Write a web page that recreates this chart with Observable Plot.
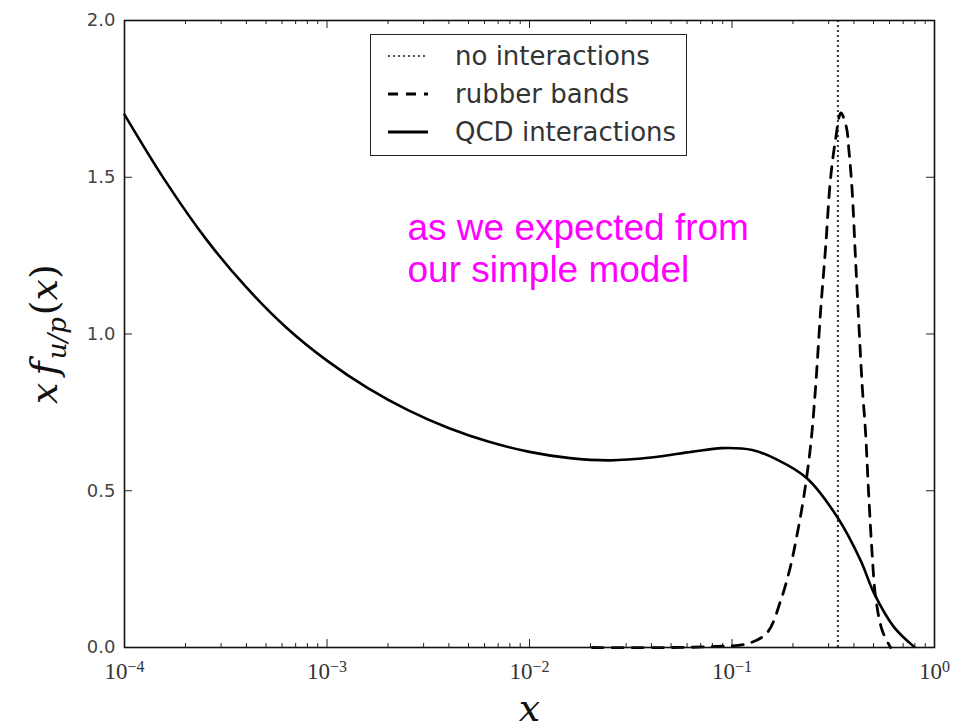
<!DOCTYPE html>
<html>
<head>
<meta charset="utf-8">
<script src="https://cdn.jsdelivr.net/npm/d3@7"></script>
<script src="https://cdn.jsdelivr.net/npm/@observablehq/plot@0.6"></script>
<style>
  html, body { margin: 0; padding: 0; background: #fff; }
  #wrap { position: relative; width: 969px; height: 728px; overflow: hidden; }
  #legend {
    position: absolute; left: 370px; top: 34px; width: 315px; height: 120px;
    border: 1.6px solid #222; background: #fff; box-sizing: content-box;
    font-family: "DejaVu Sans", sans-serif; font-size: 26px; color: #333;
  }
  .lrow { position: absolute; left: 0; height: 30px; width: 100%; }
  .lrow svg { position: absolute; left: 14px; top: 0; }
  .lrow span { position: absolute; left: 84px; top: 0; line-height: 30px; white-space: nowrap; }
</style>
</head>
<body>
<div id="wrap"></div>
<script>
// ---- data ----
const solidX = [1.0e-4, 1.585e-4, 2.512e-4, 3.981e-4, 6.310e-4, 1.0e-3, 1.585e-3, 2.512e-3, 3.981e-3, 6.310e-3, 1.0e-2, 1.585e-2, 2.512e-2, 3.981e-2, 6.310e-2, 8.913e-2, 0.1259, 0.166, 0.2344, 0.3311, 0.4315, 0.5012, 0.631, 0.7943];
const solidY = [1.700, 1.490, 1.305, 1.150, 1.020, 0.915, 0.828, 0.757, 0.700, 0.656, 0.624, 0.604, 0.597, 0.606, 0.624, 0.636, 0.630, 0.600, 0.540, 0.416, 0.278, 0.175, 0.065, 0.002];

const dashX = [0.0204, 0.05, 0.08, 0.119, 0.149, 0.174, 0.194, 0.210, 0.226, 0.244, 0.258, 0.274, 0.290, 0.306, 0.324, 0.345, 0.367, 0.378, 0.392, 0.407, 0.423, 0.440, 0.456, 0.474, 0.492, 0.512, 0.552, 0.607];
const dashY = [0.0, 0.0, 0.003, 0.012, 0.047, 0.150, 0.256, 0.363, 0.479, 0.639, 0.82, 1.075, 1.277, 1.490, 1.617, 1.705, 1.66, 1.585, 1.458, 1.245, 1.033, 0.830, 0.692, 0.479, 0.299, 0.160, 0.054, 0.0];

const noInteractionX = [1 / 3];

const xTickValues = [1e-4, 1e-3, 1e-2, 1e-1, 1];
const xMinorFactors = [2, 3, 4, 5, 6, 7, 8, 9];
const yTickValues = [0.0, 0.5, 1.0, 1.5, 2.0];

const legendLabels = ["no interactions", "rubber bands", "QCD interactions"];
const yLabel = "x f_{u/p}(x)";
const xLabel = "x";
const annotation = "as we expected from\nour simple model";

// ---- layout ----
const W = 969, H = 728, mL = 124, mR = 35, mT = 20, mB = 81;
const plotH = H - mT - mB, plotW = W - mL - mR;
const yPerPx = 2 / plotH, decPerPx = 4 / plotW;
const majLen = 8, minLen = 4;

const solid = solidX.map((x, i) => ({x, y: solidY[i]}));
const dashed = dashX.map((x, i) => ({x, y: dashY[i]}));
const xMinor = xTickValues.slice(0, -1).flatMap(d => xMinorFactors.map(f => d * f));

const tickStroke = "#222";

const chart = Plot.plot({
  width: W, height: H,
  marginLeft: mL, marginRight: mR, marginTop: mT, marginBottom: mB,
  x: {type: "log", domain: [1e-4, 1], axis: null},
  y: {domain: [0, 2], axis: null},
  style: {background: "#fff", overflow: "visible"},
  marks: [
    // inward ticks (bottom / top)
    Plot.ruleX(xTickValues, {x: d => d, y1: 0, y2: majLen * yPerPx, stroke: tickStroke, strokeWidth: 1}),
    Plot.ruleX(xTickValues, {x: d => d, y1: 2 - majLen * yPerPx, y2: 2, stroke: tickStroke, strokeWidth: 1}),
    Plot.ruleX(xMinor, {x: d => d, y1: 0, y2: minLen * yPerPx, stroke: tickStroke, strokeWidth: 1}),
    Plot.ruleX(xMinor, {x: d => d, y1: 2 - minLen * yPerPx, y2: 2, stroke: tickStroke, strokeWidth: 1}),
    // inward ticks (left / right)
    Plot.ruleY(yTickValues, {y: d => d, x1: 1e-4, x2: 1e-4 * Math.pow(10, majLen * decPerPx), stroke: tickStroke, strokeWidth: 1}),
    Plot.ruleY(yTickValues, {y: d => d, x1: Math.pow(10, -majLen * decPerPx), x2: 1, stroke: tickStroke, strokeWidth: 1}),
    // tick labels
    Plot.text(yTickValues, {x: 1e-4, y: d => d, text: d => d.toFixed(1), textAnchor: "end", dx: -9,
      fontSize: 18, fontFamily: "DejaVu Sans", fill: "#444"}),
    Plot.text(xTickValues, {x: d => d, y: 0, text: d => "10^" + Math.round(Math.log10(d)), lineAnchor: "bottom", dy: 31,
      fontSize: 23, fontFamily: "Liberation Serif", fill: "#333"}),
    // axis labels
    Plot.text([yLabel], {frameAnchor: "left", text: d => d, rotate: -90, dx: -80, textAnchor: "middle",
      lineAnchor: "middle", fontSize: 38, fontFamily: "DejaVu Serif", fill: "#111"}),
    Plot.text([xLabel], {frameAnchor: "bottom", text: d => d, dy: 73, fontSize: 38, fontStyle: "italic",
      fontFamily: "DejaVu Serif", fill: "#111"}),
    // data
    Plot.ruleX(noInteractionX, {x: d => d, stroke: "#333", strokeWidth: 2, strokeDasharray: "2,3"}),
    Plot.line(dashed, {x: "x", y: "y", curve: "catmull-rom", stroke: "#000", strokeWidth: 2.8, strokeDasharray: "11,9"}),
    Plot.line(solid, {x: "x", y: "y", curve: "catmull-rom", stroke: "#000", strokeWidth: 2.6}),
    // annotation
    Plot.text([annotation], {frameAnchor: "top-left", text: d => d, dx: 283, dy: 190, lineAnchor: "top",
      textAnchor: "start", fontSize: 37, lineHeight: 1.135, fontFamily: "Liberation Sans", fill: "#ff00ff"}),
    Plot.frame({stroke: "#111", strokeWidth: 1.6})
  ]
});

// rebuild math-like labels with tspans (still real text)
d3.select(chart).selectAll("text").each(function() {
  const t = d3.select(this);
  const s = this.textContent;
  const m = /^10\^(-?\d+)$/.exec(s);
  if (m) {
    t.text(null);
    t.append("tspan").text("10");
    t.append("tspan").attr("dy", "-0.42em").attr("font-size", 16).text(m[1].replace("-", "\u2212"));
  } else if (s === yLabel) {
    t.text(null).attr("font-style", null);
    t.append("tspan").attr("font-style", "italic").text("x");
    t.append("tspan").attr("font-style", "italic").attr("dx", 7).text("f");
    t.append("tspan").attr("font-style", "italic").attr("font-size", 26).attr("dy", 9).attr("dx", 2).text("u/p");
    t.append("tspan").attr("dy", -9).attr("dx", 2).text("(");
    t.append("tspan").attr("font-style", "italic").text("x");
    t.append("tspan").text(")");
  }
});

const wrap = document.getElementById("wrap");
wrap.appendChild(chart);

// legend
const legend = document.createElement("div");
legend.id = "legend";
const styles = [
  {dash: "2,3", w: 2, c: "#555"},
  {dash: "10,8", w: 2.8, c: "#000"},
  {dash: null, w: 2.8, c: "#000"}
];
const rowTops = [6, 44, 82];
legendLabels.forEach((lab, i) => {
  const row = document.createElement("div");
  row.className = "lrow";
  row.style.top = rowTops[i] + "px";
  const st = styles[i];
  row.innerHTML = `<svg width="46" height="30"><line x1="3" x2="43" y1="15" y2="15" stroke="${st.c}" stroke-width="${st.w}" ${st.dash ? `stroke-dasharray="${st.dash}"` : ""}/></svg><span>${lab}</span>`;
  legend.appendChild(row);
});
wrap.appendChild(legend);
</script>
</body>
</html>
